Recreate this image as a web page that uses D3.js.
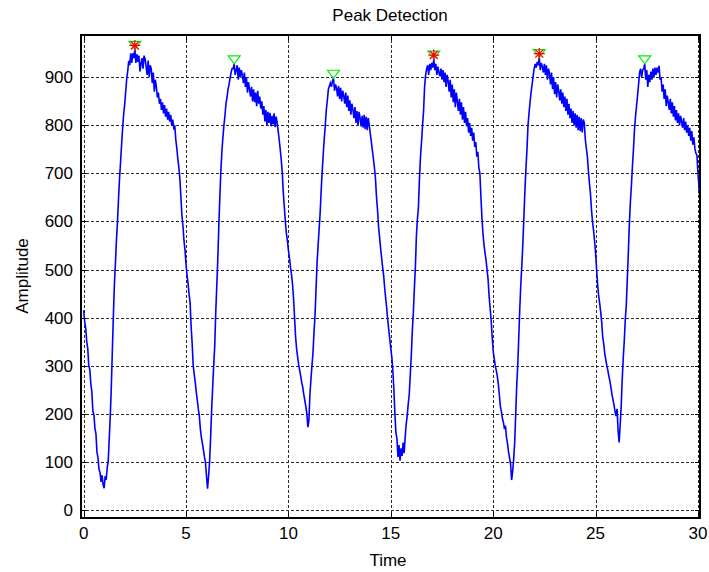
<!DOCTYPE html>
<html>
<head>
<meta charset="utf-8">
<script src="https://cdn.jsdelivr.net/npm/d3@7"></script>
<style>
  html, body { margin: 0; padding: 0; background: #ffffff; }
  svg { display: block; }
  text { font-family: "Liberation Sans", Arial, Helvetica, sans-serif; fill: #000; }
</style>
</head>
<body>
<svg id="chart" width="709" height="572"></svg>
<script>
// ---------------- data ----------------
const sampleStart = 0;      // s
const sampleStep = 0.05;    // s between samples

// amplitude samples, 5 s per segment
const seg0to5 = [
  415,392,378,350,336,300,292,262,246,205,
  198,170,158,120,108,84,78,58,72,52,
  45,70,62,88,102,148,196,255,330,402,
  468,512,560,598,645,688,722,758,792,822,
  842,868,896,912,934,925,950,930,950,940,
  958,930,948,932,945,912,928,940,918,945,
  938,922,905,935,900,925,918,888,910,870,
  895,880,858,868,845,855,832,848,825,842,
  818,835,812,828,808,822,800,812,795,800,
  770,752,730,712,688,650,612,590,560,540
];
const seg5to10 = [
  510,488,470,448,430,380,345,300,282,265,
  245,228,210,195,168,150,138,125,110,98,
  70,44,70,100,150,208,255,300,340,410,
  465,520,590,650,705,745,775,800,820,845,
  858,875,885,898,910,918,918,928,905,915,
  925,895,920,900,915,905,888,910,880,900,
  868,890,875,860,880,850,875,848,868,840,
  872,845,860,835,850,822,840,808,832,800,
  828,805,826,798,820,802,825,796,818,805,
  788,770,750,728,700,660,630,600,575,560
];
const seg10to15 = [
  540,525,505,490,470,440,400,360,335,318,
  302,290,278,265,255,240,228,215,200,172,
  185,240,272,300,328,370,405,460,515,550,
  585,618,665,705,740,772,800,832,852,875,
  882,888,880,892,898,872,885,878,860,882,
  855,878,850,872,862,845,868,838,862,830,
  852,822,845,832,815,838,805,830,800,828,
  815,798,820,795,822,792,818,790,815,800,
  782,765,748,730,712,690,652,625,590,568,
  545,525,505,488,462,440,420,395,375,355
];
const seg15to20 = [
  335,318,290,250,200,160,148,110,135,102,
  128,112,140,118,150,178,195,220,240,280,
  320,372,410,460,505,570,605,630,690,735,
  765,800,830,880,905,918,925,905,928,915,
  930,920,938,915,928,905,922,910,902,918,
  895,915,890,910,880,905,892,870,895,858,
  885,848,875,838,868,850,830,855,822,848,
  812,838,805,828,798,815,785,805,778,795,
  768,785,755,765,735,745,712,700,652,608,
  575,552,535,520,500,480,445,420,395,360
];
const seg20to25 = [
  330,315,300,290,278,262,240,215,205,190,
  182,168,175,150,138,120,108,95,62,80,
  105,140,200,260,300,360,420,470,510,555,
  610,665,710,750,800,825,848,868,885,902,
  918,928,920,932,925,941,915,930,922,910,
  928,905,925,895,918,908,885,910,875,900,
  865,890,858,885,872,852,875,845,868,838,
  860,830,855,822,845,815,835,805,830,800,
  825,795,822,790,818,788,815,785,812,805,
  770,752,735,705,680,658,625,600,582,560
];
const seg25to30 = [
  535,500,470,445,430,412,390,360,345,325,
  312,300,290,278,268,255,240,230,218,205,
  195,210,165,140,175,215,270,315,350,395,
  425,480,535,595,640,675,715,750,790,818,
  840,862,885,910,918,900,915,918,928,895,
  915,880,905,890,912,895,918,900,920,905,
  920,910,924,895,900,870,885,855,875,840,
  862,848,832,855,825,848,818,840,810,832,
  805,825,800,820,808,795,815,790,808,785,
  800,778,795,768,788,760,775,752,742,738,
  700,672,645
];

// detected peaks (all peaks: green triangles), large peaks (red stars)
const peakTimes   = [2.50, 7.35, 12.20, 17.10, 22.25, 27.40];
const peakValues  = [958, 928, 898, 938, 941, 928];
const starTimes   = [2.50, 17.10, 22.25];
const starValues  = [958, 938, 941];

const xTicks = [0, 5, 10, 15, 20, 25, 30];
const yTicks = [0, 100, 200, 300, 400, 500, 600, 700, 800, 900];

const titleText = "Peak Detection";
const xLabelText = "Time";
const yLabelText = "Amplitude";

// ---------------- drawing ----------------
const amplitude = [].concat(seg0to5, seg5to10, seg10to15, seg15to20, seg20to25, seg25to30);
const samples = amplitude.map((v, i) => ({ t: sampleStart + i * sampleStep, v: v }));

const box = { left: 81, right: 700, top: 35, bottom: 518 };
const x = d3.scaleLinear().domain([-0.13, 30.1]).range([box.left, box.right]);
const y = d3.scaleLinear().domain([-17, 988]).range([box.bottom, box.top]);

const svg = d3.select("#chart");
svg.append("rect").attr("width", 709).attr("height", 572).attr("fill", "#fff");

svg.append("defs").append("clipPath").attr("id", "clip")
  .append("rect")
  .attr("x", box.left).attr("y", box.top)
  .attr("width", box.right - box.left).attr("height", box.bottom - box.top);

// grid
const grid = svg.append("g").attr("stroke", "#2a2a2a").attr("stroke-width", 1)
  .attr("stroke-dasharray", "3,2").attr("shape-rendering", "crispEdges");
grid.selectAll("line.vx").data(xTicks).join("line")
  .attr("x1", d => Math.round(x(d)) + 0.5).attr("x2", d => Math.round(x(d)) + 0.5)
  .attr("y1", box.top).attr("y2", box.bottom);
grid.selectAll("line.hy").data(yTicks).join("line")
  .attr("y1", d => Math.round(y(d)) + 0.5).attr("y2", d => Math.round(y(d)) + 0.5)
  .attr("x1", box.left).attr("x2", box.right);

// signal
const line = d3.line().x(d => x(d.t)).y(d => y(d.v));
svg.append("path")
  .datum(samples)
  .attr("clip-path", "url(#clip)")
  .attr("fill", "none")
  .attr("stroke", "#0000ff")
  .attr("stroke-width", 1.6)
  .attr("stroke-linejoin", "miter")
  .attr("d", line);

// markers (centred a little above the peak sample)
const mOff = 4;
svg.append("g").selectAll("path").data(peakTimes).join("path")
  .attr("fill", "none").attr("stroke", "#00ee00").attr("stroke-width", 1.2)
  .attr("d", (d, i) => {
    const cx = x(d), cy = y(peakValues[i]) - mOff;
    return `M${cx - 6},${cy - 4}L${cx + 6},${cy - 4}L${cx},${cy + 4}Z`;
  });
const stars = svg.append("g").attr("stroke", "#ff0000").attr("stroke-width", 1.3);
starTimes.forEach((d, i) => {
  const cx = x(d), cy = y(starValues[i]) - mOff, r = 5.5, q = 4;
  stars.append("path").attr("d",
    `M${cx - r},${cy}L${cx + r},${cy}M${cx},${cy - r}L${cx},${cy + r}` +
    `M${cx - q},${cy - q}L${cx + q},${cy + q}M${cx - q},${cy + q}L${cx + q},${cy - q}`);
});

// box and inward ticks
const frame = svg.append("g").attr("stroke", "#000").attr("shape-rendering", "crispEdges");
frame.append("rect")
  .attr("x", box.left).attr("y", box.top)
  .attr("width", box.right - box.left).attr("height", box.bottom - box.top)
  .attr("fill", "none").attr("stroke-width", 1.5);
const tl = 5;
xTicks.forEach(d => {
  const px = Math.round(x(d)) + 0.5;
  frame.append("line").attr("x1", px).attr("x2", px).attr("y1", box.bottom).attr("y2", box.bottom - tl);
  frame.append("line").attr("x1", px).attr("x2", px).attr("y1", box.top).attr("y2", box.top + tl);
});
yTicks.forEach(d => {
  const py = Math.round(y(d)) + 0.5;
  frame.append("line").attr("y1", py).attr("y2", py).attr("x1", box.left).attr("x2", box.left + tl);
  frame.append("line").attr("y1", py).attr("y2", py).attr("x1", box.right).attr("x2", box.right - tl);
});

// tick labels
svg.append("g").selectAll("text").data(xTicks).join("text")
  .attr("x", d => x(d)).attr("y", 539)
  .attr("text-anchor", "middle").attr("font-size", 17)
  .text(d => d);
svg.append("g").selectAll("text").data(yTicks).join("text")
  .attr("x", 73).attr("y", d => y(d) + 6)
  .attr("text-anchor", "end").attr("font-size", 17)
  .text(d => d);

// title and axis labels
svg.append("text").attr("x", 390).attr("y", 21)
  .attr("text-anchor", "middle").attr("font-size", 17).text(titleText);
svg.append("text").attr("x", 388).attr("y", 566)
  .attr("text-anchor", "middle").attr("font-size", 17).text(xLabelText);
svg.append("text")
  .attr("transform", "translate(28,276) rotate(-90)")
  .attr("text-anchor", "middle").attr("font-size", 17).text(yLabelText);
</script>
</body>
</html>
